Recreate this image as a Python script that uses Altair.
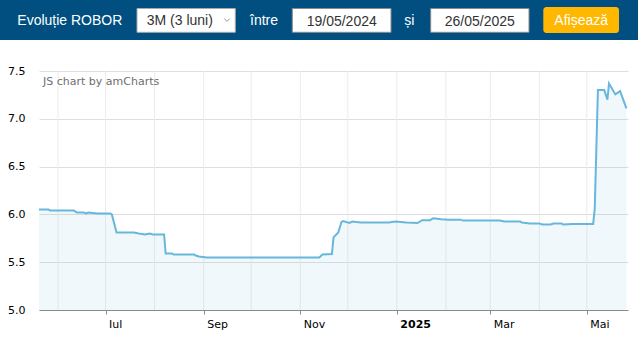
import altair as alt
import pandas as pd

# ---- data ----
dates = ["2024-05-20", "2024-05-26", "2024-05-27", "2024-06-11", "2024-06-13", "2024-06-17",
         "2024-06-19", "2024-06-20", "2024-06-26", "2024-07-04", "2024-07-05", "2024-07-08",
         "2024-07-19", "2024-07-22", "2024-07-26", "2024-07-29", "2024-07-31", "2024-08-07",
         "2024-08-08", "2024-08-12", "2024-08-13", "2024-08-26", "2024-08-27", "2024-08-29",
         "2024-09-03", "2024-11-13", "2024-11-15", "2024-11-21", "2024-11-22", "2024-11-25",
         "2024-11-27", "2024-11-28", "2024-12-02", "2024-12-04", "2024-12-09", "2024-12-27",
         "2024-12-31", "2025-01-07", "2025-01-14", "2025-01-17", "2025-01-22", "2025-01-24",
         "2025-01-29", "2025-02-03", "2025-02-10", "2025-02-12", "2025-03-07", "2025-03-10",
         "2025-03-20", "2025-03-21", "2025-03-26", "2025-04-01", "2025-04-03", "2025-04-08",
         "2025-04-10", "2025-04-15", "2025-04-16", "2025-04-22", "2025-05-05", "2025-05-06",
         "2025-05-08", "2025-05-12", "2025-05-14", "2025-05-15", "2025-05-19", "2025-05-22",
         "2025-05-26"]
robor = [6.05, 6.05, 6.04, 6.04, 6.02, 6.02,
         6.01, 6.02, 6.01, 6.01, 6.00, 5.81,
         5.81, 5.80, 5.79, 5.80, 5.79, 5.79,
         5.59, 5.59, 5.58, 5.58, 5.57, 5.56,
         5.55, 5.55, 5.58, 5.585, 5.76, 5.81,
         5.92, 5.93, 5.91, 5.925, 5.915, 5.915,
         5.925, 5.915, 5.91, 5.94, 5.94, 5.96,
         5.95, 5.945, 5.945, 5.935, 5.935, 5.925,
         5.925, 5.915, 5.905, 5.905, 5.895, 5.895,
         5.905, 5.905, 5.895, 5.90, 5.90, 6.06,
         7.30, 7.30, 7.20, 7.37, 7.255, 7.29,
         7.11]

grid_months = ["2024-06-01", "2024-07-01", "2024-08-01", "2024-09-01", "2024-10-01",
               "2024-11-01", "2024-12-01", "2025-01-01", "2025-02-01", "2025-03-01",
               "2025-04-01", "2025-05-01"]
tick_dates = ["2024-07-01", "2024-09-01", "2024-11-01", "2025-01-01", "2025-03-01", "2025-05-01"]
month_names = ["Ian", "Feb", "Mar", "Apr", "Mai", "Iun", "Iul", "Aug", "Sep", "Oct", "Nov", "Dec"]
y_ticks = [5.0, 5.5, 6.0, 6.5, 7.0, 7.5]
domain_dates = ["2024-05-20", "2025-05-27"]

header_title = "Evoluție ROBOR"
select_text = "3M (3 luni)"
word_between = "între"
word_and = "și"
date_from = "19/05/2024"
date_to = "26/05/2025"
button_text = "Afișează"
credit_text = "JS chart by amCharts"

# ---- layout ----
OX, OY = 39, 71
W, H = 589, 239
LINE = "#67b7dc"
HEADER = "#004f80"


def dt(s):
    t = pd.Timestamp(s)
    return alt.DateTime(year=t.year, month=t.month, date=t.day, utc=True)


df = pd.DataFrame({"date": dates, "value": robor})
grid_df = pd.DataFrame({"date": grid_months})
one = pd.DataFrame({"k": [0]})

xscale = alt.Scale(type="utc", domain=[dt(d) for d in domain_dates])
yscale = alt.Scale(domain=[5.0, 7.5], zero=False, nice=False)

label_expr = ("utcmonth(datum.value) == 0 ? utcFormat(datum.value, '%Y') : "
              + str(month_names) + "[utcmonth(datum.value)]")

xaxis = alt.Axis(
    values=[dt(d) for d in tick_dates], labelExpr=label_expr, title="", grid=False,
    domainColor="#8a8a8a", tickColor="#8a8a8a", tickSize=4, labelAlign="left", labelOffset=3,
    labelPadding=4, labelFontSize=11, labelFont="DejaVu Sans", labelColor="#000000",
    labelFlush=False, labelOverlap=False,
    labelFontWeight={"condition": {"test": "utcmonth(datum.value) == 0", "value": "bold"},
                     "value": "normal"},
)
yaxis = alt.Axis(
    values=y_ticks, format=".1f", title="", domain=False, ticks=False, grid=True,
    gridColor="#dedede", labelPadding=14, labelFontSize=11, labelFont="DejaVu Sans",
    labelColor="#000000",
)

vgrid = alt.Chart(grid_df).mark_rule(color="#ececec", strokeWidth=1).encode(
    x=alt.X("date:T", scale=xscale, axis=xaxis), y=alt.value(0), y2=alt.value(H)
)
area = alt.Chart(df).mark_area(color=LINE, opacity=0.1).encode(
    x=alt.X("date:T", scale=xscale, axis=xaxis),
    y=alt.Y("value:Q", scale=yscale, axis=yaxis),
    y2=alt.datum(5.0),
)
line = alt.Chart(df).mark_line(color=LINE, strokeWidth=2).encode(
    x=alt.X("date:T", scale=xscale, axis=xaxis),
    y=alt.Y("value:Q", scale=yscale, axis=yaxis),
)


def box(x1, y1, x2, y2, **kw):
    return alt.Chart(one).mark_rect(**kw).encode(
        x=alt.value(x1 - OX), x2=alt.value(x2 - OX), y=alt.value(y1 - OY), y2=alt.value(y2 - OY)
    )


def txt(s, x, y, **kw):
    return alt.Chart(one).mark_text(text=s, **kw).encode(x=alt.value(x - OX), y=alt.value(y - OY))


hfont = dict(font="Liberation Sans", fontSize=14, baseline="alphabetic")

layers = [
    box(0, 0, 638, 40, fill=HEADER),
    txt(header_title, 17.3, 25, align="left", color="white", **hfont),
    box(137, 8.5, 235.3, 32.3, fill="white", stroke="#a9a9a9", strokeWidth=1),
    txt(select_text, 146.7, 25, align="left", color="#333333", **hfont),
    alt.Chart(one).mark_point(shape="M-1,-0.5L0,0.5L1,-0.5", filled=False, color="#666666",
                              size=30, strokeWidth=1).encode(x=alt.value(227 - OX), y=alt.value(20 - OY)),
    txt(word_between, 250, 25, align="left", color="white", **hfont),
    box(292.3, 8.5, 391, 32.3, fill="white", stroke="#8a8a8a", strokeWidth=1),
    txt(date_from, 341.7, 25.5, align="center", color="#333333", **hfont),
    txt(word_and, 404.3, 25, align="left", color="white", **hfont),
    box(430.7, 8.5, 529, 32.3, fill="white", stroke="#8a8a8a", strokeWidth=1),
    txt(date_to, 479.8, 25.5, align="center", color="#333333", **hfont),
    box(543.3, 7, 619, 33, fill="#ffb700", cornerRadius=3),
    txt(button_text, 581.2, 25, align="center", color="white", **hfont),
    vgrid,
    area,
    line,
    txt(credit_text, 43, 85, align="left", baseline="alphabetic", font="DejaVu Sans",
        fontSize=11, color="#6e6e6e"),
]

chart = alt.layer(*layers).properties(
    width=W, height=H,
    autosize=alt.AutoSizeParams(type="none"),
    padding={"left": OX, "top": OY, "right": 638 - OX - W, "bottom": 340 - OY - H},
    background="white",
).configure_view(strokeWidth=0)

chart.save("out.html", embed_options={"renderer": "svg", "actions": False})
